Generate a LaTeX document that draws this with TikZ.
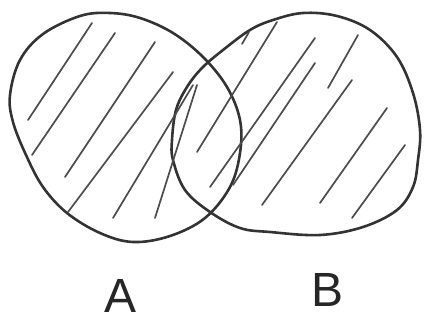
\documentclass[tikz,border=0pt]{standalone}
\usepackage{fontspec}
\setmainfont{Liberation Sans}
\begin{document}
\begin{tikzpicture}[x=1pt,y=-1pt,
  outline/.style={draw=black!80,line width=2.6pt,line join=round},
  hatch/.style={draw=black!70,line width=1.7pt,line cap=round},
  lbl/.style={font=\fontsize{48}{48}\selectfont,text=black!85,inner sep=0pt,anchor=base}]
\useasboundingbox (0,0) rectangle (425,324);
% left blob
\draw[outline] plot[smooth cycle,tension=0.6] coordinates {
(10,95) (13,122) (26,155) (43,187) (67,213) (100,233) (133,242) (170,236)
(205,218) (230,187) (240,153) (240,120) (227,87) (203,57) (173,33) (140,18)
(110,13) (80,16) (43,34) (20,60)};
% right blob
\draw[outline] plot[smooth cycle,tension=0.6] coordinates {
(172,140) (176,110) (187,87) (202,68) (223,50) (250,30) (273,20) (303,13)
(337,16) (370,30) (397,57) (413,93) (420,130) (418,160) (413,187) (397,210)
(363,227) (320,235) (270,232) (240,228) (210,212) (185,190) (173,160)};
% hatching
\foreach \a/\b/\c/\d in {28/120/92/23, 32/155/115/33, 65/177/155/42,
  68/212/173/72, 113/218/193/85, 155/218/197/85,
  197/152/277/22, 210/187/315/38, 233/185/315/63, 262/205/352/80,
  328/88/358/35, 320/203/387/108, 352/218/405/145, 242/44/249/32}
  \draw[hatch] (\a,\b) -- (\c,\d);
\node[lbl] (A) at (121,312) {A};
\node[lbl] (B) at (328,306) {B};
\end{tikzpicture}
\end{document}
